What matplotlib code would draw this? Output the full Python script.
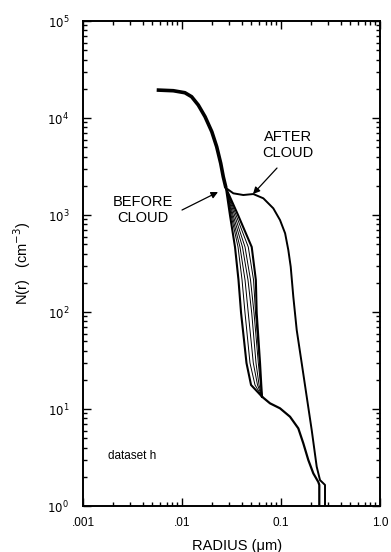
import numpy as np
import matplotlib
matplotlib.use("Agg")
import matplotlib.pyplot as plt
from matplotlib.ticker import FixedLocator, LogLocator, NullFormatter

plt.rcParams['font.family'] = ['Liberation Sans', 'DejaVu Sans']

# common upper part (all size distributions overlap here)
r_top = [0.00555, 0.00817, 0.0107, 0.0125, 0.0146, 0.0171, 0.0200, 0.0224,
         0.0246, 0.0261, 0.0278]
n_top = [19440, 19120, 18230, 16590, 13610, 10310, 7225, 5060, 3412, 2483, 1898]

# after cloud branch
r_after = [0.0278, 0.0330, 0.0416, 0.0525, 0.0663, 0.0836, 0.0977, 0.110, 0.1185,
           0.1253, 0.1331, 0.1441, 0.1619, 0.1818, 0.2042, 0.2294, 0.2477, 0.2782,
           0.2782]
n_after = [1898, 1674, 1608, 1646, 1487, 1172, 888, 648, 436,
           293, 144, 65.2, 29.6, 13.4, 6.07, 2.54, 1.85, 1.65,
           0.8]

# before cloud bundle: N levels and radius of each curve at those levels
n_bundle = [1000, 468, 214, 97.7, 29.8, 17.7]
r_bundle = [
    [0.0305, 0.0343, 0.0372, 0.0395, 0.0448, 0.0498],
    [0.0313, 0.0368, 0.0404, 0.0433, 0.0486, 0.0546],
    [0.0320, 0.0385, 0.0433, 0.0467, 0.0525, 0.0579],
    [0.0328, 0.0408, 0.0464, 0.0506, 0.0559, 0.0600],
    [0.0339, 0.0433, 0.0492, 0.0534, 0.0590, 0.0621],
    [0.0351, 0.0467, 0.0528, 0.0553, 0.0607, 0.0628],
    [0.0368, 0.0506, 0.0557, 0.0568, 0.0614, 0.0632],
]
bundle_lw = [1.5, 0.7, 0.7, 0.7, 0.7, 0.7, 1.5]

# common lower tail of the before cloud curves
r_tail = [0.0643, 0.0774, 0.0977, 0.1233, 0.1495, 0.1680, 0.1887, 0.2120,
          0.2380, 0.2436, 0.2436]
n_tail = [13.4, 11.45, 10.17, 8.33, 6.32, 4.43, 2.98, 2.17, 1.77, 1.65, 0.8]

fig = plt.figure(figsize=(3.91, 5.52), dpi=100)
ax = fig.add_axes([0.2123, 0.0833, 0.7596, 0.8786])

ax.plot(r_top, n_top, color='black', lw=2.6, solid_capstyle='butt',
        solid_joinstyle='round')
ax.plot(r_after, n_after, color='black', lw=1.4, solid_joinstyle='round')
for rs, lw in zip(r_bundle, bundle_lw):
    ax.plot([r_top[-1]] + rs + [r_tail[0]], [n_top[-1]] + n_bundle + [n_tail[0]],
            color='black', lw=lw, solid_joinstyle='round')
ax.plot(r_tail, n_tail, color='black', lw=1.6, solid_joinstyle='round')

ax.set_xscale('log')
ax.set_yscale('log')
ax.set_xlim(0.001, 1.0)
ax.set_ylim(1, 1e5)

ax.xaxis.set_major_locator(FixedLocator([0.001, 0.01, 0.1, 1.0]))
ax.set_xticklabels(['.001', '.01', '0.1', '1.0'])
ax.xaxis.set_minor_locator(LogLocator(base=10, subs=np.arange(2, 10), numticks=20))
ax.xaxis.set_minor_formatter(NullFormatter())
ax.yaxis.set_major_locator(FixedLocator([1, 10, 100, 1e3, 1e4, 1e5]))
ax.set_yticklabels(['$10^0$', '$10^1$', '$10^2$', '$10^3$', '$10^4$', '$10^5$'])
ax.yaxis.set_minor_locator(LogLocator(base=10, subs=np.arange(2, 10), numticks=20))
ax.yaxis.set_minor_formatter(NullFormatter())

ax.tick_params(which='both', direction='in', top=True, right=True, labelsize=8.5,
               width=1.0, colors='black')
ax.tick_params(which='major', length=6)
ax.tick_params(which='minor', length=3)
ax.tick_params(axis='x', which='major', pad=8)
ax.tick_params(axis='y', which='major', pad=10)
for s in ax.spines.values():
    s.set_linewidth(1.4)

ax.set_xlabel('RADIUS (\u03bcm)', fontsize=10.5)
ax.xaxis.set_label_coords(0.52, -0.068)
ax.set_ylabel('N(r)   (cm$^{-3}$)', fontsize=10.5)
ax.yaxis.set_label_coords(-0.17, 0.5)

ax.text(0.1178, 5267, 'AFTER\nCLOUD', ha='center', va='center', fontsize=10.5,
        linespacing=1.15)
ax.annotate('', xy=(0.0521, 1646), xytext=(0.0911, 3052),
            arrowprops=dict(arrowstyle='-|>', color='black', lw=0.9,
                            mutation_scale=10, shrinkA=0, shrinkB=0))
ax.text(0.00404, 1126, 'BEFORE\nCLOUD', ha='center', va='center', fontsize=10.5,
        linespacing=1.15)
ax.annotate('', xy=(0.0231, 1726), xytext=(0.0100, 1126),
            arrowprops=dict(arrowstyle='-|>', color='black', lw=0.9,
                            mutation_scale=10, shrinkA=0, shrinkB=0))
ax.text(0.00179, 3.27, 'dataset h', fontsize=8.5, ha='left', va='center')

fig.savefig('out.png', dpi=100)
